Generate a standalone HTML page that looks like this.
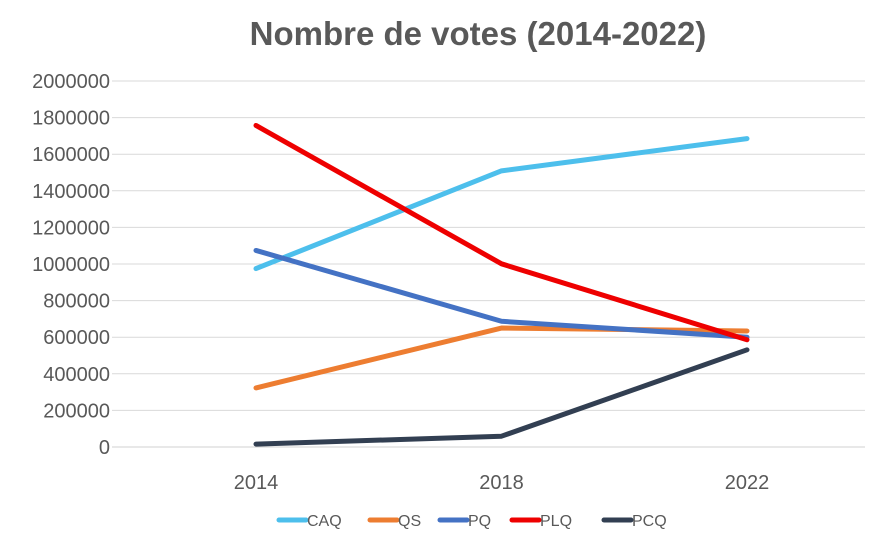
<!DOCTYPE html>
<html><head><meta charset="utf-8"><style>
body{margin:0;background:#fff;}
svg{display:block;font-family:"Liberation Sans",sans-serif;}
</style></head><body>
<svg id="chart" width="883" height="541">
<text x="478" y="45" text-anchor="middle" font-size="33" font-weight="bold" fill="#595959">Nombre de votes (2014-2022)</text>
<g id="grid"></g><g id="series"></g><g id="legend"></g>
</svg>
<script>
const categories=["2014","2018","2022"];
const yTicks=[0,200000,400000,600000,800000,1000000,1200000,1400000,1600000,1800000,2000000];
const seriesNames=["CAQ","QS","PQ","PLQ","PCQ"];
const caq=[975000,1509000,1685000];
const qs=[323000,650000,634000];
const pq=[1074000,687000,600000];
const plq=[1757000,1001000,586000];
const pcq=[16000,59000,531000];
const allValues=[caq,qs,pq,plq,pcq];
const colors=["#4dbfec","#ed7d31","#4472c4","#ee0000","#323f52"];
const NS="http://www.w3.org/2000/svg";
const x0=112,x1=865,y0=447,y1=81,yMax=2000000;
const y=v=>y0-(v/yMax)*(y0-y1);
const band=245.5,firstX=256;
const x=i=>firstX+i*band;
function mk(tag,attrs,parent){const e=document.createElementNS(NS,tag);for(const k in attrs)e.setAttribute(k,attrs[k]);parent.appendChild(e);return e;}
const grid=document.getElementById('grid');
yTicks.forEach(t=>{
  const l=mk('line',{x1:x0,x2:x1,y1:y(t),y2:y(t),stroke:t===0?'#d0d0d0':'#d9d9d9','stroke-width':1},grid);
  
  
  const tx=mk('text',{x:110,y:y(t)+7,'text-anchor':'end','font-size':20,fill:'#595959'},grid);
  tx.textContent=t;
  
  
});
categories.forEach((c,i)=>{
  const tx=mk('text',{x:x(i),y:489,'text-anchor':'middle','font-size':20,fill:'#595959'},grid);
  tx.textContent=c;
  
  
});
const sg=document.getElementById('series');
allValues.forEach((vals,s)=>{
  const p=mk('polyline',{points:vals.map((v,i)=>x(i)+','+y(v)).join(' '),fill:'none',stroke:colors[s],'stroke-width':5,'stroke-linejoin':'round','stroke-linecap':'round'},sg);
  
  
});
const lg=document.getElementById('legend');
const legX=[279,370,440,512,604];
seriesNames.forEach((n,s)=>{
  const l=mk('line',{x1:legX[s],x2:legX[s]+27,y1:520,y2:520,stroke:colors[s],'stroke-width':5,'stroke-linecap':'round'},lg);
  
  
  const t=mk('text',{x:legX[s]+28,y:526,'font-size':16,fill:'#595959'},lg);
  t.textContent=n;
  
  
});
</script>
</body></html>
